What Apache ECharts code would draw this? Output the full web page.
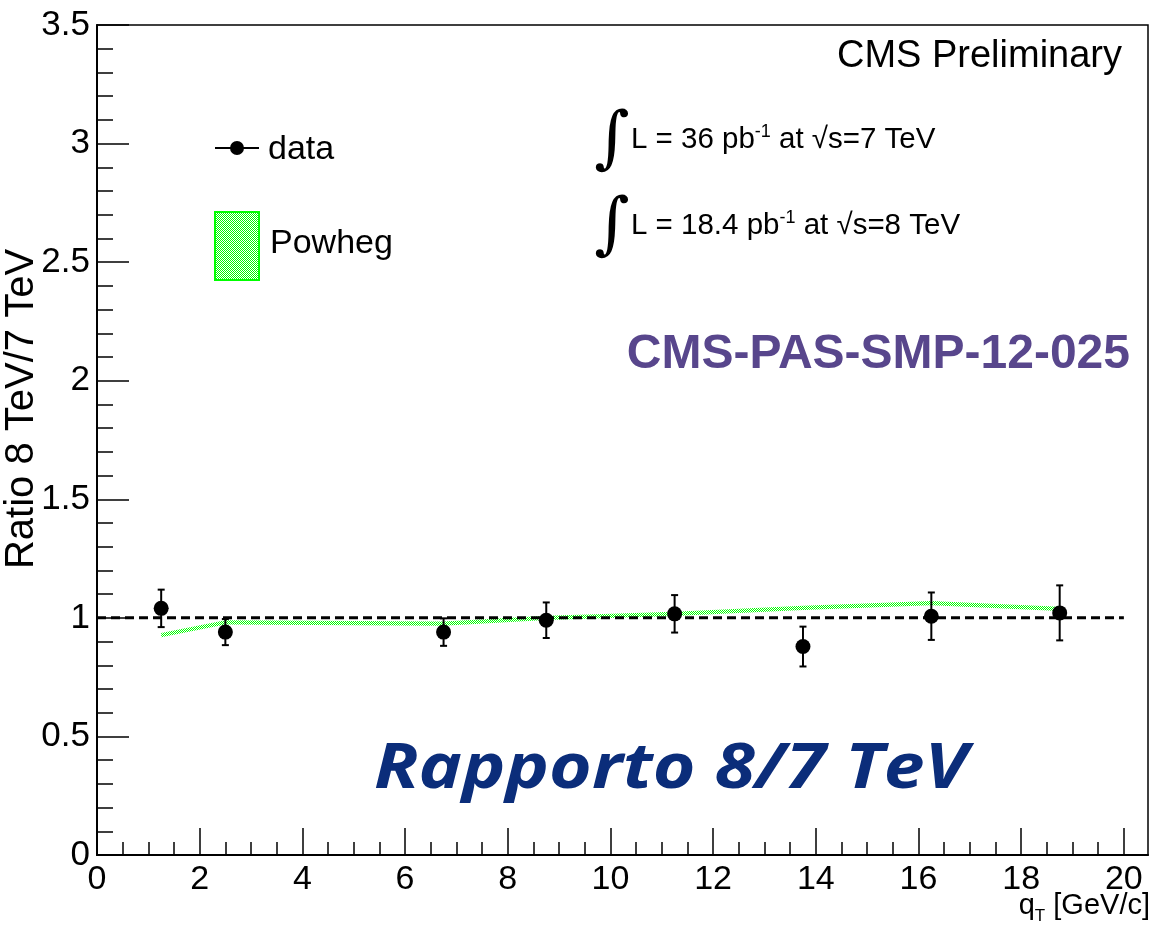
<!DOCTYPE html>
<html>
<head>
<meta charset="utf-8">
<script src="https://cdn.jsdelivr.net/npm/echarts@6/dist/echarts.min.js"></script>
<style>
  html, body { margin: 0; padding: 0; background: #fff; }
  #chart { width: 1151px; height: 926px; }
</style>
</head>
<body>
<div id="chart"></div>
<script>
// q_T bin centres [GeV/c]
const qtCenters = [1.25, 2.5, 6.75, 8.75, 11.25, 13.75, 16.25, 18.75];
// measured 8 TeV / 7 TeV ratio and its uncertainty
const ratioData = [1.04, 0.94, 0.94, 0.99, 1.017, 0.879, 1.007, 1.021];
const ratioErr = [0.079, 0.055, 0.058, 0.075, 0.079, 0.084, 0.10, 0.116];
// Powheg prediction: central value and half-width of the band
const powhegCentral = [0.927, 0.981, 0.976, 1.0, 1.017, 1.042, 1.062, 1.038];
const powhegHalf = [0.009, 0.009, 0.009, 0.009, 0.009, 0.009, 0.009, 0.009];
// unit reference line
const unitLine = [[0, 1], [20, 1]];
// axis ticks
const xMajorTicks = [0, 2, 4, 6, 8, 10, 12, 14, 16, 18, 20];
const xMinorTicks = [];
for (let v = 0; v <= 20; v += 0.5) xMinorTicks.push(v);

const FONT = "'Liberation Sans', Arial, Helvetica, sans-serif";

// green hatched fill (checker pattern)
function makePattern() {
  const c = document.createElement('canvas');
  c.width = 2; c.height = 2;
  const ctx = c.getContext('2d');
  ctx.fillStyle = '#ffffff';
  ctx.fillRect(0, 0, 2, 2);
  ctx.fillStyle = '#00ff00';
  ctx.fillRect(0, 0, 1, 1);
  ctx.fillRect(1, 1, 1, 1);
  return c;
}
const patternCanvas = makePattern();
const greenPattern = () => ({ image: patternCanvas, repeat: 'repeat' });

const chart = echarts.init(document.getElementById('chart'), null, { renderer: 'canvas' });

const option = {
  animation: false,
  backgroundColor: '#ffffff',
  grid: {
    left: 97, right: 3, top: 25, bottom: 71,
    show: true, borderColor: '#000', borderWidth: 1.5, backgroundColor: 'transparent'
  },
  xAxis: [
    {
      type: 'value', min: 0, max: 20.47, position: 'bottom',
      axisLine: { show: true, onZero: false, lineStyle: { color: '#000', width: 2 } },
      axisTick: { show: true, inside: true, length: 27, customValues: xMajorTicks, lineStyle: { color: '#000', width: 1.5 } },
      axisLabel: { show: true, customValues: xMajorTicks, color: '#000', fontSize: 34, fontFamily: FONT, margin: 8 },
      splitLine: { show: false }
    },
    {
      type: 'value', min: 0, max: 20.47, position: 'bottom',
      axisLine: { show: false },
      axisTick: { show: true, inside: true, length: 13, customValues: xMinorTicks, lineStyle: { color: '#000', width: 1.5 } },
      axisLabel: { show: false },
      splitLine: { show: false }
    }
  ],
  yAxis: [
    {
      type: 'value', min: 0, max: 3.5, interval: 0.5, position: 'left',
      axisLine: { show: true, onZero: false, lineStyle: { color: '#000', width: 2 } },
      axisTick: { show: true, inside: true, length: 32, lineStyle: { color: '#000', width: 1.5 } },
      axisLabel: { show: true, color: '#000', fontSize: 35, fontFamily: FONT, margin: 7 },
      splitLine: { show: false }
    },
    {
      type: 'value', min: 0, max: 3.5, interval: 0.1, position: 'left',
      axisLine: { show: false },
      axisTick: { show: true, inside: true, length: 16, lineStyle: { color: '#000', width: 1.5 } },
      axisLabel: { show: false },
      splitLine: { show: false }
    }
  ],
  series: [
    {
      name: 'Powheg',
      type: 'custom',
      xAxisIndex: 0, yAxisIndex: 0,
      data: qtCenters.map((x, i) => [x, powhegCentral[i], powhegHalf[i]]),
      renderItem: function (params, api) {
        const i = params.dataIndex;
        if (i === 0) return null;
        const x0 = qtCenters[i - 1], x1 = qtCenters[i];
        const pts = [
          api.coord([x0, powhegCentral[i - 1] + powhegHalf[i - 1]]),
          api.coord([x1, powhegCentral[i] + powhegHalf[i]]),
          api.coord([x1, powhegCentral[i] - powhegHalf[i]]),
          api.coord([x0, powhegCentral[i - 1] - powhegHalf[i - 1]])
        ];
        return { type: 'polygon', shape: { points: pts }, style: { fill: greenPattern(), stroke: null } };
      },
      z: 1
    },
    {
      name: 'unity',
      type: 'line',
      data: unitLine,
      symbol: 'none',
      lineStyle: { color: '#000', width: 3, type: [9, 5] },
      z: 2
    },
    {
      name: 'errors',
      type: 'custom',
      data: qtCenters.map((x, i) => [x, ratioData[i] - ratioErr[i], ratioData[i] + ratioErr[i]]),
      renderItem: function (params, api) {
        const x = api.value(0);
        const top = api.coord([x, api.value(2)]);
        const bot = api.coord([x, api.value(1)]);
        const cw = 3.5;
        const st = { stroke: '#000', lineWidth: 2 };
        return {
          type: 'group',
          children: [
            { type: 'line', shape: { x1: top[0], y1: top[1], x2: bot[0], y2: bot[1] }, style: st },
            { type: 'line', shape: { x1: top[0] - cw, y1: top[1], x2: top[0] + cw, y2: top[1] }, style: st },
            { type: 'line', shape: { x1: bot[0] - cw, y1: bot[1], x2: bot[0] + cw, y2: bot[1] }, style: st }
          ]
        };
      },
      z: 3
    },
    {
      name: 'data',
      type: 'scatter',
      data: qtCenters.map((x, i) => [x, ratioData[i]]),
      symbol: 'circle',
      symbolSize: 15,
      itemStyle: { color: '#000', opacity: 1 },
      z: 4
    }
  ],
  graphic: [
    // axis titles
    {
      type: 'text', x: 22, y: 409, rotation: Math.PI / 2,
      style: { text: 'Ratio 8 TeV/7 TeV', font: '40px ' + FONT, fill: '#000', align: 'center', verticalAlign: 'middle' }
    },
    {
      type: 'text', x: 1150, y: 908,
      style: {
        text: '{t|q}{s|T}{t| [GeV/c]}', align: 'right', verticalAlign: 'middle',
        rich: {
          t: { fontSize: 29, fontFamily: FONT, fill: '#000', lineHeight: 34, verticalAlign: 'top' },
          s: { fontSize: 17, fontFamily: FONT, fill: '#000', lineHeight: 17, verticalAlign: 'bottom' }
        }
      }
    },
    // header
    {
      type: 'text', x: 1122, y: 57,
      style: { text: 'CMS Preliminary', font: '38px ' + FONT, fill: '#000', align: 'right', verticalAlign: 'middle' }
    },
    // luminosity lines
    {
      type: 'text', x: 612, y: 142,
      style: { text: '∫', font: 'italic 68px "DejaVu Serif", serif', fill: '#000', align: 'center', verticalAlign: 'middle' }
    },
    {
      type: 'text', x: 631, y: 140,
      style: {
        text: '{t|L = 36 pb}{s|-1}{t| at √s=7 TeV}', align: 'left', verticalAlign: 'middle',
        rich: {
          t: { fontSize: 29.5, fontFamily: FONT, fill: '#000', lineHeight: 34 },
          s: { fontSize: 18, fontFamily: FONT, fill: '#000', lineHeight: 17, verticalAlign: 'top' }
        }
      }
    },
    {
      type: 'text', x: 612, y: 228,
      style: { text: '∫', font: 'italic 68px "DejaVu Serif", serif', fill: '#000', align: 'center', verticalAlign: 'middle' }
    },
    {
      type: 'text', x: 631, y: 226,
      style: {
        text: '{t|L = 18.4 pb}{s|-1}{t| at √s=8 TeV}', align: 'left', verticalAlign: 'middle',
        rich: {
          t: { fontSize: 29.5, fontFamily: FONT, fill: '#000', lineHeight: 34 },
          s: { fontSize: 18, fontFamily: FONT, fill: '#000', lineHeight: 17, verticalAlign: 'top' }
        }
      }
    },
    // legend
    { type: 'line', shape: { x1: 215, y1: 148, x2: 259, y2: 148 }, style: { stroke: '#000', lineWidth: 2 } },
    { type: 'circle', shape: { cx: 237, cy: 148, r: 7 }, style: { fill: '#000' } },
    {
      type: 'text', x: 268, y: 150,
      style: { text: 'data', font: '34px ' + FONT, fill: '#000', align: 'left', verticalAlign: 'middle' }
    },
    {
      type: 'rect', shape: { x: 215, y: 212, width: 44, height: 68 },
      style: { fill: greenPattern(), stroke: '#00ff00', lineWidth: 2 }
    },
    {
      type: 'text', x: 270, y: 244,
      style: { text: 'Powheg', font: '34px ' + FONT, fill: '#000', align: 'left', verticalAlign: 'middle' }
    },
    // document reference and slide label
    {
      type: 'text', x: 1130, y: 355,
      style: { text: 'CMS-PAS-SMP-12-025', font: 'bold 48px ' + FONT, fill: '#58468c', align: 'right', verticalAlign: 'middle' }
    },
    {
      type: 'text', x: 374, y: 770, scaleX: 1.18,
      style: { text: 'Rapporto 8/7 TeV', font: 'italic bold 62px "Open Sans", Lato, sans-serif', fill: '#0b2d7a', align: 'left', verticalAlign: 'middle' }
    }
  ]
};

chart.setOption(option);
</script>
</body>
</html>
